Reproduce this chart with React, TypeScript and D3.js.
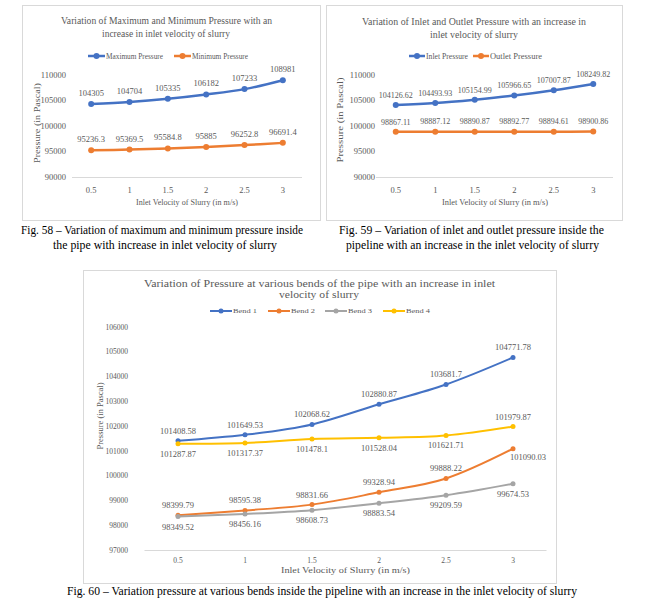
import React from "react";
import * as d3 from "d3";

const velocities = ["0.5", "1", "1.5", "2", "2.5", "3"];
const maxPressure = [104305, 104704, 105335, 106182, 107233, 108981];
const minPressure = [95236.3, 95369.5, 95584.8, 95885, 96252.8, 96691.4];
const inletPressure = [104126.62, 104493.93, 105154.99, 105966.65, 107007.87, 108249.82];
const outletPressure = [98867.11, 98887.12, 98890.87, 98892.77, 98894.61, 98900.86];
const bend1 = [101408.58, 101649.53, 102068.62, 102880.87, 103681.7, 104771.78];
const bend2 = [98399.79, 98595.38, 98831.66, 99328.94, 99888.22, 101090.03];
const bend3 = [98349.52, 98456.16, 98608.73, 98883.54, 99209.59, 99674.53];
const bend4 = [101287.87, 101317.37, 101478.1, 101528.04, 101621.71, 101979.87];
const yTicksTop = [90000, 95000, 100000, 105000, 110000];
const yTicksBottom = [97000, 98000, 99000, 100000, 101000, 102000, 103000, 104000, 105000, 106000];
const bend2LabelPos = ["above", "above", "above", "above", "above", "right"];
const bend4LabelPos = ["below", "below", "below", "below", "below", "above"];

const FONT = "'Liberation Serif', 'Times New Roman', serif";
const GRAY = "#595959";
const BLUE = "#4472C4";
const ORANGE = "#ED7D31";
const SGRAY = "#A5A5A5";
const YELLOW = "#FFC000";

type Series = { name: string; values: number[]; color: string; pos: string[] };

type PanelCfg = {
  box: [number, number, number, number];
  xr: [number, number];
  yd: [number, number];
  yr: [number, number];
  ticks: number[];
  tickX: number;
  tickFs: number;
  tickY: number;
  title: { text: string; x: number; y: number; w: number }[];
  titleFs: number;
  legend: { x1: number; x2: number; tw: number }[];
  legendY: number;
  legendFs: number;
  series: Series[];
  labelFs: number;
  labelOff: number;
  xTitle: { x: number; y: number; w: number };
  yTitle: { x: number; y: number; w: number };
  axisFs: number;
  lw: number;
  r: number;
};

function Panel({ c }: { c: PanelCfg }) {
  const x = d3.scalePoint<string>().domain(velocities).range(c.xr).padding(0.5);
  const y = d3.scaleLinear().domain(c.yd).range(c.yr);
  const line = d3
    .line<number>()
    .x((_, i) => x(velocities[i]) as number)
    .y((d) => y(d))
    .curve(d3.curveCatmullRom.alpha(0));
  const [bx, by, bw, bh] = c.box;
  return (
    <g>
      <rect x={bx + 0.5} y={by + 0.5} width={bw} height={bh} fill="#fff" stroke="#d9d9d9" strokeWidth={1} />
      {c.title.map((t, i) => (
        <text key={i} x={t.x} y={t.y} dy="0.35em" fontSize={c.titleFs} fill={GRAY} textLength={t.w} lengthAdjust="spacingAndGlyphs">
          {t.text}
        </text>
      ))}
      {c.series.map((s, i) => {
        const L = c.legend[i];
        return (
          <g key={s.name}>
            <line x1={L.x1} x2={L.x2} y1={c.legendY} y2={c.legendY} stroke={s.color} strokeWidth={c.lw} />
            <circle cx={(L.x1 + L.x2) / 2} cy={c.legendY} r={c.r} fill={s.color} />
            <text x={L.x2 + 1} y={c.legendY} dy="0.35em" fontSize={c.legendFs} fill={GRAY} textLength={L.tw} lengthAdjust="spacingAndGlyphs">
              {s.name}
            </text>
          </g>
        );
      })}
      {c.ticks.map((t) => (
        <text key={t} x={c.tickX} y={y(t)} dy="0.35em" textAnchor="end" fontSize={c.tickFs} fill={GRAY}>
          {t}
        </text>
      ))}
      <line x1={c.xr[0]} x2={c.xr[1]} y1={y(c.yd[0]) + 0.5} y2={y(c.yd[0]) + 0.5} stroke="#d9d9d9" strokeWidth={1} />
      {velocities.map((v) => (
        <text key={v} x={x(v)} y={c.tickY} dy="0.35em" textAnchor="middle" fontSize={c.tickFs} fill={GRAY}>
          {v}
        </text>
      ))}
      <text x={c.xTitle.x} y={c.xTitle.y} dy="0.35em" fontSize={c.axisFs} fill={GRAY} textLength={c.xTitle.w} lengthAdjust="spacingAndGlyphs">
        Inlet Velocity of Slurry (in m/s)
      </text>
      <text
        transform={`translate(${c.yTitle.x},${c.yTitle.y}) rotate(-90)`}
        x={-c.yTitle.w / 2}
        dy="0.35em"
        fontSize={c.axisFs}
        fill={GRAY}
        textLength={c.yTitle.w}
        lengthAdjust="spacingAndGlyphs"
      >
        Pressure (in Pascal)
      </text>
      {c.series.map((s) => (
        <g key={s.name}>
          <path d={line(s.values) || ""} fill="none" stroke={s.color} strokeWidth={c.lw} strokeLinecap="round" />
          {s.values.map((v, i) => (
            <circle key={i} cx={x(velocities[i])} cy={y(v)} r={c.r} fill={s.color} />
          ))}
        </g>
      ))}
      {c.series.map((s) =>
        s.values.map((v, i) => {
          const p = s.pos[i];
          const px = (x(velocities[i]) as number) + (p === "right" ? 15 : 0);
          const py = y(v) + (p === "above" ? -c.labelOff : p === "below" ? c.labelOff : 8);
          return (
            <text key={s.name + i} x={px} y={py} dy="0.35em" textAnchor="middle" fontSize={c.labelFs} fill={GRAY}>
              {String(v)}
            </text>
          );
        })
      )}
    </g>
  );
}

const above6 = ["above", "above", "above", "above", "above", "above"];
const below6 = ["below", "below", "below", "below", "below", "below"];

const panel1: PanelCfg = {
  box: [22, 5, 298, 215],
  xr: [72, 302],
  yd: [90000, 110000],
  yr: [177, 75],
  ticks: yTicksTop,
  tickX: 66,
  tickFs: 8.5,
  tickY: 190,
  title: [
    { text: "Variation of Maximum and Minimum Pressure with an", x: 61, y: 20, w: 211 },
    { text: "increase in inlet velocity of slurry", x: 102, y: 33, w: 128 },
  ],
  titleFs: 10.5,
  legend: [
    { x1: 88, x2: 105, tw: 57 },
    { x1: 174, x2: 191, tw: 56 },
  ],
  legendY: 56,
  legendFs: 7.5,
  series: [
    { name: "Maximum Pressure", values: maxPressure, color: BLUE, pos: above6 },
    { name: "Minimum Pressure", values: minPressure, color: ORANGE, pos: above6 },
  ],
  labelFs: 8.5,
  labelOff: 11,
  xTitle: { x: 136, y: 202, w: 102 },
  yTitle: { x: 37, y: 123, w: 80 },
  axisFs: 8.5,
  lw: 2.5,
  r: 3,
};

const panel2: PanelCfg = {
  box: [326, 5, 296, 215],
  xr: [376, 613],
  yd: [90000, 110000],
  yr: [177, 75],
  ticks: yTicksTop,
  tickX: 375,
  tickFs: 8.5,
  tickY: 190,
  title: [
    { text: "Variation of Inlet and Outlet Pressure with an increase in", x: 362, y: 21, w: 224 },
    { text: "inlet velocity of slurry", x: 430, y: 34, w: 88 },
  ],
  titleFs: 10.5,
  legend: [
    { x1: 409, x2: 425, tw: 42 },
    { x1: 473, x2: 489, tw: 52 },
  ],
  legendY: 56,
  legendFs: 7.5,
  series: [
    { name: "Inlet Pressure", values: inletPressure, color: BLUE, pos: above6 },
    { name: "Outlet Pressure", values: outletPressure, color: ORANGE, pos: above6 },
  ],
  labelFs: 8,
  labelOff: 10,
  xTitle: { x: 442, y: 202, w: 106 },
  yTitle: { x: 340, y: 120, w: 85 },
  axisFs: 8.5,
  lw: 2.5,
  r: 3,
};

const panel3: PanelCfg = {
  box: [83, 270, 473, 313],
  xr: [144.5, 546.5],
  yd: [97000, 106000],
  yr: [550, 327],
  ticks: yTicksBottom,
  tickX: 128,
  tickFs: 7.5,
  tickY: 560,
  title: [
    { text: "Variation of Pressure at various bends of the pipe with an increase in inlet", x: 144, y: 283, w: 351 },
    { text: "velocity of slurry", x: 279, y: 294, w: 80 },
  ],
  titleFs: 10,
  legend: [
    { x1: 210, x2: 232, tw: 24 },
    { x1: 268, x2: 290, tw: 24 },
    { x1: 325, x2: 347, tw: 24 },
    { x1: 383, x2: 405, tw: 24 },
  ],
  legendY: 311,
  legendFs: 7,
  series: [
    { name: "Bend 1", values: bend1, color: BLUE, pos: above6 },
    { name: "Bend 2", values: bend2, color: ORANGE, pos: bend2LabelPos },
    { name: "Bend 3", values: bend3, color: SGRAY, pos: below6 },
    { name: "Bend 4", values: bend4, color: YELLOW, pos: bend4LabelPos },
  ],
  labelFs: 8.5,
  labelOff: 10,
  xTitle: { x: 281, y: 570, w: 129 },
  yTitle: { x: 100, y: 416, w: 67 },
  axisFs: 8.5,
  lw: 2,
  r: 2.5,
};

const captions = [
  { text: "Fig. 58 \u2013 Variation of maximum and minimum pressure inside", x: 21, y: 230, w: 282 },
  { text: "the pipe with increase in inlet velocity of slurry", x: 53, y: 245, w: 224 },
  { text: "Fig. 59 \u2013 Variation of inlet and outlet pressure inside the", x: 339, y: 230, w: 265 },
  { text: "pipeline with an increase in the inlet velocity of slurry", x: 346, y: 245, w: 253 },
  { text: "Fig. 60 \u2013 Variation pressure at various bends inside the pipeline with an increase in the inlet velocity of slurry", x: 67, y: 591, w: 510 },
];

export default function App() {
  return (
    <svg
      width={652}
      height={606}
      style={{ position: "absolute", left: 0, top: 0, background: "#fff" }}
      fontFamily={FONT}
    >
      <rect width={652} height={606} fill="#fff" />
      <Panel c={panel1} />
      <Panel c={panel2} />
      <Panel c={panel3} />
      {captions.map((c, i) => (
        <text key={i} x={c.x} y={c.y} dy="0.35em" fontSize={12} fill="#000" textLength={c.w} lengthAdjust="spacingAndGlyphs">
          {c.text}
        </text>
      ))}
    </svg>
  );
}
